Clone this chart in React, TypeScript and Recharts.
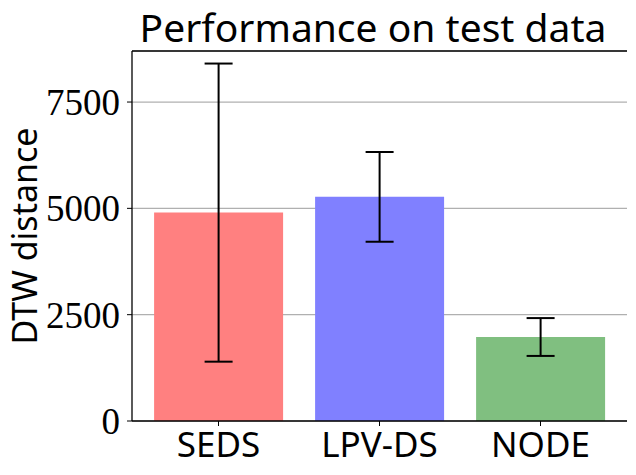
import { BarChart, Bar, XAxis, YAxis, CartesianGrid, ErrorBar, Cell, ReferenceLine } from "recharts";

// ── data ──────────────────────────────────────────────────────────────────────
const categories = ["SEDS", "LPV-DS", "NODE"];
const means = [4900, 5270, 1975];
const stds = [3505, 1055, 445];
const barColors = ["#ff8080", "#8080ff", "#80bf80"];
const yTicks = [0, 2500, 5000, 7500];
const yMax = 8700;

const chartData = categories.map((name, i) => ({ name, mean: means[i], std: stds[i] }));

const SANS = "'Noto Sans', sans-serif";
const SERIF = "'Liberation Serif', serif";

export default function App() {
  return (
    <div style={{ position: "absolute", left: 0, top: 0, width: 636, height: 475, background: "#fff" }}>
      <svg width={636} height={60} style={{ position: "absolute", left: 0, top: 0 }}>
        <text x={373} y={42} textAnchor="middle" fontFamily={SANS} fontSize={39} fill="#000">
          Performance on test data
        </text>
      </svg>
      <div style={{ position: "absolute", left: 0, top: 0 }}>
        <BarChart
          width={636}
          height={475}
          data={chartData}
          margin={{ top: 51, right: 9, left: 0, bottom: 0 }}
          barCategoryGap="10%"
        >
          <CartesianGrid vertical={false} stroke="#b0b0b0" strokeWidth={1.2} />
          <XAxis
            dataKey="name"
            interval={0}
            padding={{ left: 6, right: 6 }}
            height={54}
            tickSize={5}
            tickMargin={6}
            axisLine={{ stroke: "#000", strokeWidth: 1.3 }}
            tickLine={{ stroke: "#000" }}
            tick={{ fontFamily: SANS, fontSize: 35, fill: "#000" }}
          />
          <YAxis
            domain={[0, yMax]}
            ticks={yTicks}
            allowDataOverflow
            width={132}
            tickSize={5}
            tickMargin={7}
            axisLine={{ stroke: "#000", strokeWidth: 1.3 }}
            tickLine={{ stroke: "#000" }}
            tick={{ fontFamily: SERIF, fontSize: 37, fill: "#000" }}
            label={{
              value: "DTW distance",
              angle: -90,
              position: "insideLeft",
              offset: 25,
              style: { textAnchor: "middle", fontFamily: SANS, fontSize: 34, fill: "#000" },
            }}
          />
          <YAxis
            yAxisId="right"
            orientation="right"
            domain={[0, 1]}
            width={0}
            tick={false}
            tickLine={false}
            axisLine={{ stroke: "#000", strokeWidth: 1.3 }}
          />
          <Bar dataKey="mean" isAnimationActive={false}>
            {chartData.map((_, i) => (
              <Cell key={i} fill={barColors[i]} />
            ))}
            <ErrorBar dataKey="std" width={14} stroke="#000" strokeWidth={2} direction="y" />
          </Bar>
          <ReferenceLine y={yMax} stroke="#000" strokeWidth={1.3} />
        </BarChart>
      </div>
    </div>
  );
}
